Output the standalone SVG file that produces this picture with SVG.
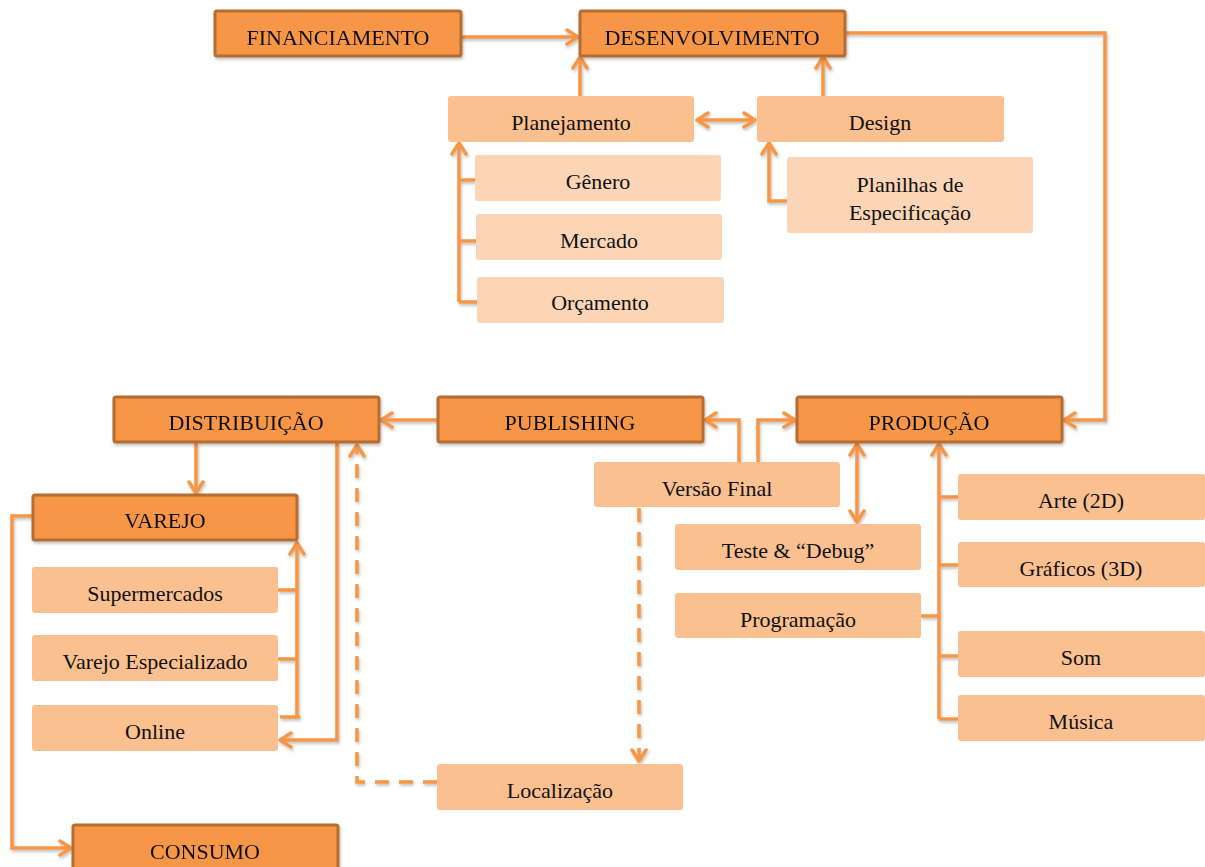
<svg xmlns="http://www.w3.org/2000/svg" width="1205" height="867" viewBox="0 0 1205 867">
<style>
.dark{fill:#F79646;stroke:#B66D31;stroke-width:3}
.mid{fill:#FAC090}
.light{fill:#FBD5B5}
text{font-family:"Liberation Serif","Times New Roman",serif;font-size:22px;fill:#111;text-anchor:middle;dominant-baseline:central}
.c{fill:none;stroke:#F79646;stroke-width:3.5}
.a{marker-end:url(#arr)}
.d{stroke-dasharray:14 10}
</style>
<defs>
<filter id="sh" x="-5%" y="-10%" width="115%" height="130%">
<feDropShadow dx="1" dy="2" stdDeviation="1.5" flood-color="#000" flood-opacity="0.25"/>
</filter>
<marker id="arr" markerUnits="userSpaceOnUse" markerWidth="16" markerHeight="18" viewBox="0 0 16 18" refX="14" refY="9" orient="auto-start-reverse">
<path d="M3,2 L14,9 L3,16" fill="none" stroke="#F79646" stroke-width="3.5" stroke-linecap="round" stroke-linejoin="round"/>
</marker>
</defs>
<rect width="1205" height="867" fill="#fff"/>

<g id="connectors" filter="url(#sh)">
<path class="c a" d="M461,37 H578"/>
<path class="c a" d="M580,96 V57"/>
<path class="c a" d="M823,96 V57"/>
<path class="c a" d="M697,120 H755" marker-start="url(#arr)"/>
<path class="c a" d="M459,302 V143"/>
<path class="c" d="M459,180 H476 M459,241 H477 M459,302 H478"/>
<path class="c a" d="M787,201 H769 V143"/>
<path class="c a" d="M845,33 H1105 V420 H1064"/>
<path class="c a" d="M437,420 H381"/>
<path class="c a" d="M739,462 V420 H705"/>
<path class="c a" d="M758,462 V420 H795"/>
<path class="c a" d="M857,522 V444" marker-start="url(#arr)"/>
<path class="c a" d="M939,719 V444"/>
<path class="c" d="M939,497 H958 M939,565 H958 M921,616 H939 M939,656 H958 M939,719 H959"/>
<path class="c a" d="M196,443 V493"/>
<path class="c a" d="M297,717 V543"/>
<path class="c" d="M278,590 H297 M278,659 H297 M280,717 H300"/>
<path class="c a" d="M337,443 V740 H280"/>
<path class="c a d" d="M437,782 H357 V445"/>
<path class="c a d" d="M639,508 V761"/>
<path class="c a" d="M33,516 H12 V848 H71"/>
</g>

<g id="financiamento" filter="url(#sh)"><rect class="dark" x="215" y="11" width="246" height="45" rx="2"/><text x="338" y="37">FINANCIAMENTO</text></g>
<g id="desenvolvimento" filter="url(#sh)"><rect class="dark" x="580" y="11" width="265" height="45" rx="2"/><text x="712" y="37">DESENVOLVIMENTO</text></g>
<g id="planejamento"><rect class="mid" x="448" y="96" width="246" height="46" rx="3"/><text x="571" y="122">Planejamento</text></g>
<g id="design"><rect class="mid" x="757" y="96" width="247" height="46" rx="3"/><text x="880" y="122">Design</text></g>
<g id="genero"><rect class="light" x="475" y="155" width="246" height="46" rx="3"/><text x="598" y="181">Gênero</text></g>
<g id="mercado"><rect class="light" x="476" y="214" width="246" height="46" rx="3"/><text x="599" y="240">Mercado</text></g>
<g id="orcamento"><rect class="light" x="477" y="277" width="247" height="46" rx="3"/><text x="600" y="302">Orçamento</text></g>
<g id="planilhas"><rect class="light" x="787" y="157" width="246" height="76" rx="3"/><text x="910" y="184">Planilhas de</text><text x="910" y="212">Especificação</text></g>

<g id="distribuicao" filter="url(#sh)"><rect class="dark" x="114" y="397" width="265" height="45" rx="2"/><text x="246" y="422">DISTRIBUIÇÃO</text></g>
<g id="publishing" filter="url(#sh)"><rect class="dark" x="438" y="397" width="265" height="45" rx="2"/><text x="570" y="422">PUBLISHING</text></g>
<g id="producao" filter="url(#sh)"><rect class="dark" x="797" y="397" width="265" height="45" rx="2"/><text x="929" y="422">PRODUÇÃO</text></g>

<g id="versao-final"><rect class="mid" x="594" y="462" width="246" height="45" rx="3"/><text x="717" y="488">Versão Final</text></g>
<g id="teste-debug"><rect class="mid" x="675" y="524" width="246" height="46" rx="3"/><text x="798" y="550">Teste &amp; “Debug”</text></g>
<g id="programacao"><rect class="mid" x="675" y="593" width="246" height="45" rx="3"/><text x="798" y="619">Programação</text></g>
<g id="arte"><rect class="mid" x="958" y="474" width="247" height="46" rx="3"/><text x="1081" y="500">Arte (2D)</text></g>
<g id="graficos"><rect class="mid" x="958" y="542" width="247" height="45" rx="3"/><text x="1081" y="568">Gráficos (3D)</text></g>
<g id="som"><rect class="mid" x="958" y="631" width="247" height="46" rx="3"/><text x="1081" y="657">Som</text></g>
<g id="musica"><rect class="mid" x="958" y="695" width="247" height="46" rx="3"/><text x="1081" y="721">Música</text></g>

<g id="varejo" filter="url(#sh)"><rect class="dark" x="33" y="495" width="264" height="45" rx="2"/><text x="165" y="520">VAREJO</text></g>
<g id="supermercados"><rect class="mid" x="32" y="567" width="246" height="46" rx="3"/><text x="155" y="593">Supermercados</text></g>
<g id="varejo-especializado"><rect class="mid" x="32" y="635" width="246" height="46" rx="3"/><text x="155" y="661">Varejo Especializado</text></g>
<g id="online"><rect class="mid" x="32" y="705" width="246" height="46" rx="3"/><text x="155" y="731">Online</text></g>
<g id="localizacao"><rect class="mid" x="437" y="764" width="246" height="46" rx="3"/><text x="560" y="790">Localização</text></g>
<g id="consumo" filter="url(#sh)"><rect class="dark" x="73" y="825" width="265" height="45" rx="2"/><text x="205" y="851">CONSUMO</text></g>
</svg>
